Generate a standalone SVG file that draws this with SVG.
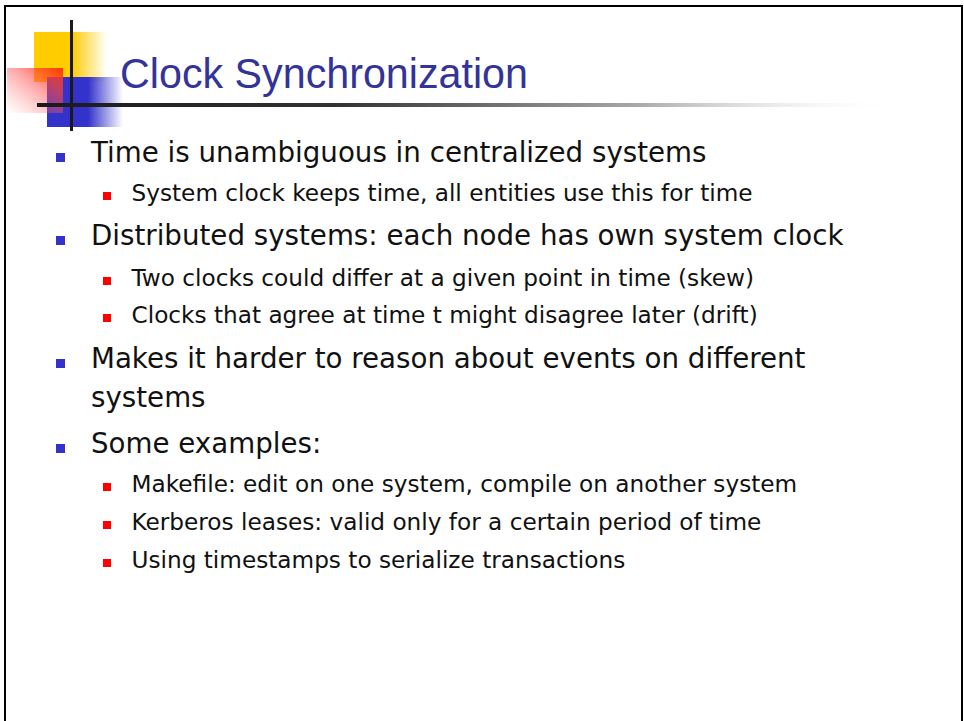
<svg xmlns="http://www.w3.org/2000/svg" width="964" height="721" viewBox="0 0 964 721">
  <defs>
    <linearGradient id="gYellow" x1="0" y1="0" x2="1" y2="0">
      <stop offset="0" stop-color="#FFCC00"/>
      <stop offset="0.52" stop-color="#FFCC00"/>
      <stop offset="1" stop-color="#FFCC00" stop-opacity="0"/>
    </linearGradient>
    <linearGradient id="gBlue" x1="0" y1="0" x2="1" y2="0">
      <stop offset="0" stop-color="#3333CC"/>
      <stop offset="0.54" stop-color="#3333CC"/>
      <stop offset="1" stop-color="#3333CC" stop-opacity="0"/>
    </linearGradient>
    <linearGradient id="gRed" x1="1" y1="0" x2="0" y2="1">
      <stop offset="0" stop-color="#FF3300" stop-opacity="1"/>
      <stop offset="0.45" stop-color="#FF5050" stop-opacity="0.5"/>
      <stop offset="1" stop-color="#FF8080" stop-opacity="0"/>
    </linearGradient>
    <linearGradient id="gLine" x1="0" y1="0" x2="1" y2="0">
      <stop offset="0" stop-color="#1a1a1a"/>
      <stop offset="0.35" stop-color="#333333"/>
      <stop offset="0.7" stop-color="#aaaaaa"/>
      <stop offset="1" stop-color="#ffffff" stop-opacity="0"/>
    </linearGradient>
  </defs>
  <style>
    .title { font-family: "Liberation Sans", Arial, sans-serif; font-size: 43px; fill: #333399; }
    .l1 { font-family: "DejaVu Sans", Verdana, sans-serif; font-size: 27.7px; fill: #111111; }
    .l2 { font-family: "DejaVu Sans", Verdana, sans-serif; font-size: 23.2px; fill: #111111; }
    .b1 { fill: #3333CC; }
    .b2 { fill: #FF0000; }
  </style>

  <rect x="0" y="0" width="964" height="721" fill="#ffffff"/>
  <rect id="frame" x="5" y="6" width="957" height="730" fill="none" stroke="#000000" stroke-width="2"/>

  <g id="decoration">
    <rect x="34" y="32" width="73" height="50" fill="url(#gYellow)"/>
    <rect x="47" y="77" width="76" height="50" fill="url(#gBlue)"/>
    <rect x="7" y="68" width="56" height="45" fill="url(#gRed)"/>
    <rect x="70" y="20" width="3" height="111" fill="#1a1a1a"/>
    <rect x="37" y="103" width="863" height="4" fill="url(#gLine)"/>
  </g>

  <g id="title">
    <text class="title" x="120" y="88" textLength="408" lengthAdjust="spacingAndGlyphs">Clock Synchronization</text>
  </g>

  <g id="bullets">
    <rect class="b1" x="56" y="153" width="9" height="9"/>
    <text class="l1" x="91" y="162">Time is unambiguous in centralized systems</text>
    <rect class="b2" x="103" y="192" width="8" height="8"/>
    <text class="l2" x="131.5" y="201">System clock keeps time, all entities use this for time</text>

    <rect class="b1" x="56" y="236" width="9" height="9"/>
    <text class="l1" x="91" y="245">Distributed systems: each node has own system clock</text>
    <rect class="b2" x="103" y="277" width="8" height="8"/>
    <text class="l2" x="131.5" y="286">Two clocks could differ at a given point in time (skew)</text>
    <rect class="b2" x="103" y="314" width="8" height="8"/>
    <text class="l2" x="131.5" y="323">Clocks that agree at time t might disagree later (drift)</text>

    <rect class="b1" x="56" y="359" width="9" height="9"/>
    <text class="l1" x="91" y="368">Makes it harder to reason about events on different</text>
    <text class="l1" x="91" y="407">systems</text>

    <rect class="b1" x="56" y="444" width="9" height="9"/>
    <text class="l1" x="91" y="453">Some examples:</text>
    <rect class="b2" x="103" y="483" width="8" height="8"/>
    <text class="l2" x="131.5" y="492">Makefile: edit on one system, compile on another system</text>
    <rect class="b2" x="103" y="521" width="8" height="8"/>
    <text class="l2" x="131.5" y="530">Kerberos leases: valid only for a certain period of time</text>
    <rect class="b2" x="103" y="559" width="8" height="8"/>
    <text class="l2" x="131.5" y="568">Using timestamps to serialize transactions</text>
  </g>
</svg>
